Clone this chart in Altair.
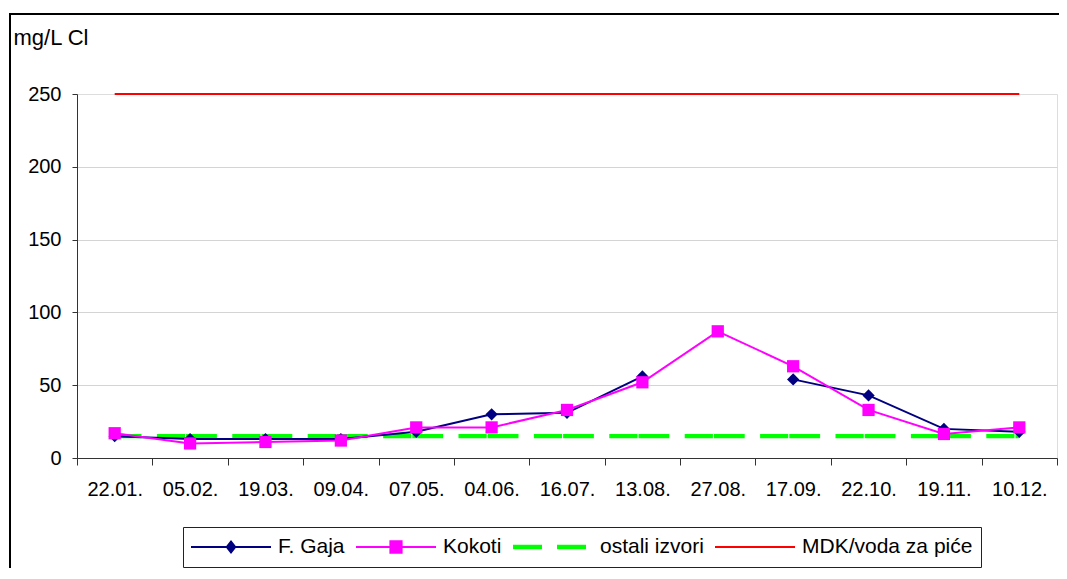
import altair as alt
import pandas as pd

# ---------------- data ----------------
dates = ["22.01.", "05.02.", "19.03.", "09.04.", "07.05.", "04.06.", "16.07.",
         "13.08.", "27.08.", "17.09.", "22.10.", "19.11.", "10.12."]
f_gaja = [15, 13, 13, 13, 18, 30, 31, 56, None, 54, 43, 20, 18]
kokoti = [17, 10, 11, 12, 21, 21, 33, 52, 87, 63, 33, 16.5, 21]
ostali = [15, 15, 15, 15, 15, 15, 15, 15, 15, 15, 15, 15, 15]
mdk = [250, 250, 250, 250, 250, 250, 250, 250, 250, 250, 250, 250, 250]

series_names = ["F. Gaja", "Kokoti", "ostali izvori", "MDK/voda za piće"]
series_colors = ["#000080", "#FF00FF", "#00FF00", "#FF0000"]
y_ticks = [0, 50, 100, 150, 200, 250]

rows = []
for name, vals in zip(series_names, [f_gaja, kokoti, ostali, mdk]):
    for d, v in zip(dates, vals):
        rows.append({"date": d, "value": v, "series": name})
df = pd.DataFrame(rows)

FONT = "Liberation Sans"

# legend symbols: line + marker drawn as filled paths (unit = 40 px)
legend_shapes = [
    "M-1,-0.025L1,-0.025L1,0.025L-1,0.025Z M0,-0.175L0.1375,0L0,0.175L-0.1375,0Z",
    "M-1,-0.025L1,-0.025L1,0.025L-1,0.025Z M-0.165,-0.17L0.165,-0.17L0.165,0.17L-0.165,0.17Z",
    "M-1,-0.054L-0.275,-0.054L-0.275,0.054L-1,0.054Z M0.1,-0.054L0.825,-0.054L0.825,0.054L0.1,0.054Z",
    "M-1,-0.025L1,-0.025L1,0.025L-1,0.025Z",
]

x_axis = alt.Axis(
    title=None, labelAngle=0, labelFont=FONT, labelFontSize=20, labelColor="black",
    tickSize=7, labelPadding=14, tickBand="extent", grid=False,
    domainColor="#333333", tickColor="#333333", labelOverlap=False,
)
y_axis = alt.Axis(
    values=y_ticks, title="mg/L Cl", titleAngle=0, titleX=-64, titleY=-50,
    titleAlign="left", titleBaseline="alphabetic", titleFont=FONT, titleFontSize=22,
    titleFontWeight="normal", titleColor="black",
    labelFont=FONT, labelFontSize=20, labelColor="black", labelPadding=11,
    tickSize=5, domainColor="#333333", tickColor="#333333",
    grid=True, gridColor={"condition": {"test": "datum.value >= 250", "value": "transparent"},
                          "value": "#d4d4d4"},
)

x_enc = alt.X("date:N", sort=dates, bandPosition=0.5,
              scale=alt.Scale(type="band", paddingInner=0, paddingOuter=0), axis=x_axis)
y_enc = alt.Y("value:Q", scale=alt.Scale(domain=[0, 250], nice=False), axis=y_axis)

base = alt.Chart(df)

frame = alt.Chart(pd.DataFrame({"k": [0]})).mark_rect(
    fill="transparent", stroke="black", strokeWidth=2
).encode(x=alt.value(-67), x2=alt.value(1300), y=alt.value(-80), y2=alt.value(800))

mdk_line = base.transform_filter(alt.datum.series == series_names[3]).mark_line(
    color="#FF0000", strokeWidth=2).encode(x=x_enc, y=y_enc)

green_line = base.transform_filter(alt.datum.series == series_names[2]).mark_line(
    color="#00FF00", strokeWidth=4.3, strokeDash=[30.8, 15.4, 28.2, 1], strokeDashOffset=4
).encode(x=x_enc, y=y_enc)

gaja_line = base.transform_filter(alt.datum.series == series_names[0]).mark_line(
    color="#000080", strokeWidth=2).encode(x=x_enc, y=y_enc)
kok_line = base.transform_filter(alt.datum.series == series_names[1]).mark_line(
    color="#FF00FF", strokeWidth=2).encode(x=x_enc, y=y_enc)

gaja_pts = base.transform_filter(alt.datum.series == series_names[0]).mark_point(
    shape="diamond", filled=True, size=150, color="#000080", opacity=1
).encode(x=x_enc, y=y_enc)
kok_pts = base.transform_filter(alt.datum.series == series_names[1]).mark_point(
    shape="square", filled=True, size=150, color="#FF00FF", opacity=1
).encode(x=x_enc, y=y_enc)

leg = alt.Legend(
    title=None, orient="none", legendX=106, legendY=433, direction="horizontal",
    symbolSize=6400, clipHeight=24, labelOffset=7, columnPadding=11, padding=8,
    strokeColor="#222222", fillColor="white", labelFont=FONT, labelFontSize=21,
    labelColor="black", labelLimit=400, symbolStrokeWidth=0,
    symbolStrokeColor="transparent", cornerRadius=0,
)

legend_layer = base.transform_filter("false").mark_point(filled=True, opacity=1).encode(
    color=alt.Color("series:N", scale=alt.Scale(domain=series_names, range=series_colors),
                    legend=leg),
    shape=alt.Shape("series:N", scale=alt.Scale(domain=series_names, range=legend_shapes),
                    legend=leg),
)

chart = alt.layer(
    frame, mdk_line, green_line, gaja_line, kok_line, gaja_pts, kok_pts, legend_layer
).properties(
    width=980, height=364,
    padding={"left": 69, "top": 86, "right": 2, "bottom": 110},
    autosize=alt.AutoSizeParams(type="none"),
).configure_view(stroke=None).configure(background="white")

chart.save("out.html", embed_options={"renderer": "svg", "actions": False})
